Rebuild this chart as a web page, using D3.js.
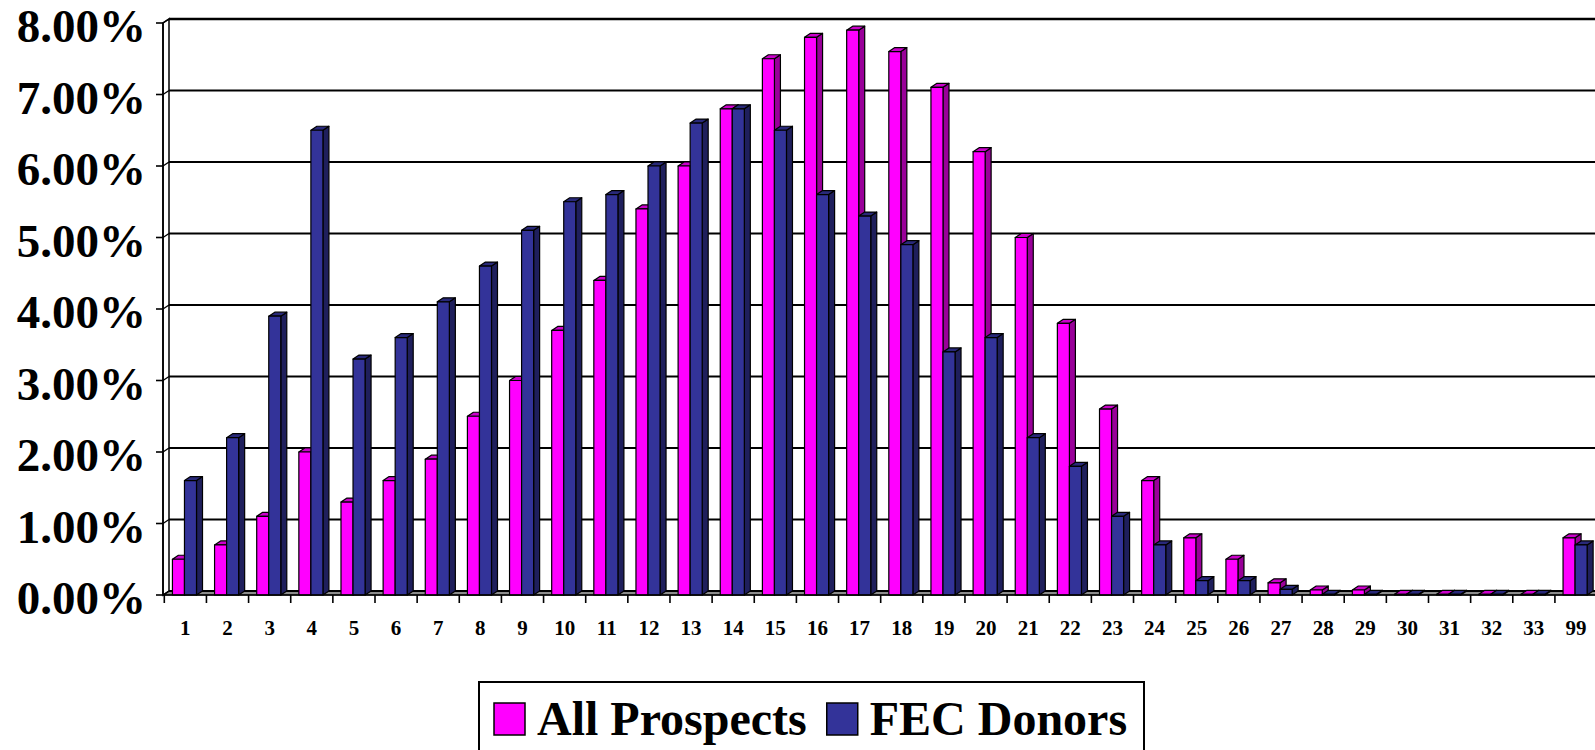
<!DOCTYPE html>
<html>
<head>
<meta charset="utf-8">
<script src="https://cdn.jsdelivr.net/npm/d3@7"></script>
<style>
  html, body { margin: 0; padding: 0; background: #fff; }
  svg { display: block; }
  text { font-family: "Liberation Serif", "Times New Roman", serif; font-weight: bold; fill: #000; }
</style>
</head>
<body>
<svg id="chart" width="1595" height="750"></svg>
<script>
// Distribution by category, percent of each group
const categories = ["1","2","3","4","5","6","7","8","9","10","11","12","13","14","15","16","17",
  "18","19","20","21","22","23","24","25","26","27","28","29","30","31","32","33","99"];
const seriesNames = ["All Prospects", "FEC Donors"];
const allProspects = [0.5, 0.7, 1.1, 2.0, 1.3, 1.6, 1.9, 2.5, 3.0, 3.7, 4.4, 5.4, 6.0, 6.8, 7.5, 7.8, 7.9,
  7.6, 7.1, 6.2, 5.0, 3.8, 2.6, 1.6, 0.8, 0.5, 0.17, 0.07, 0.07, 0.01, 0.01, 0.01, 0.01, 0.8];
const fecDonors = [1.6, 2.2, 3.9, 6.5, 3.3, 3.6, 4.1, 4.6, 5.1, 5.5, 5.6, 6.0, 6.6, 6.8, 6.5, 5.6, 5.3,
  4.9, 3.4, 3.6, 2.2, 1.8, 1.1, 0.7, 0.2, 0.2, 0.08, 0.01, 0.01, 0.01, 0.01, 0.01, 0.01, 0.7];
const yTicks = [0, 1, 2, 3, 4, 5, 6, 7, 8];

const colors = {
  "All Prospects": { front: "#FF00FF", top: "#CC00CC", side: "#990099" },
  "FEC Donors":    { front: "#333399", top: "#29297A", side: "#1F1F5C" }
};

const svg = d3.select("#chart");

// 3D depth offset of the back wall relative to the front plane
const dx = 6, dy = 4;

// Back wall vertical scale
const yBack = d3.scaleLinear().domain([0, 8]).range([591, 19]);
const yFront = v => yBack(v) + dy;

// Category bands along the front edge
const step = 42.14;
const x0 = d3.scaleBand().domain(categories)
  .range([164.3, 164.3 + step * categories.length]).paddingInner(0).paddingOuter(0);
const x1 = d3.scaleBand().domain(seriesNames)
  .range([0, x0.bandwidth()]).paddingInner(0).paddingOuter(0.75).align(0.45);

const xLeftFront = 163, xRight = 1600;

// Floor strip
svg.append("polygon")
  .attr("points", [[xLeftFront, yFront(0)], [xLeftFront + dx, yBack(0)], [xRight, yBack(0)], [xRight, yFront(0)]].join(" "))
  .attr("fill", "#8c8c8c").attr("stroke", "#000").attr("stroke-width", 1);

// Left side wall
svg.append("polygon")
  .attr("points", [[xLeftFront, yFront(0)], [xLeftFront, yFront(8)], [xLeftFront + dx, yBack(8)], [xLeftFront + dx, yBack(0)]].join(" "))
  .attr("fill", "#fff").attr("stroke", "#000").attr("stroke-width", 1.5);

// Gridlines on the back wall and side wall
const grid = svg.append("g");
yTicks.forEach(t => {
  grid.append("line")
    .attr("x1", xLeftFront + dx).attr("x2", xRight)
    .attr("y1", yBack(t)).attr("y2", yBack(t))
    .attr("stroke", "#000").attr("stroke-width", t === 8 ? 2.4 : 1.8);
  grid.append("line")
    .attr("x1", xLeftFront).attr("x2", xLeftFront + dx)
    .attr("y1", yFront(t)).attr("y2", yBack(t))
    .attr("stroke", "#000").attr("stroke-width", 1.4);
});

// Bars drawn as front, top and side faces
const bars = svg.append("g");
categories.forEach((c, i) => {
  const vals = { "All Prospects": allProspects[i], "FEC Donors": fecDonors[i] };
  seriesNames.forEach(s => {
    const v = vals[s];
    const xf = x0(c) + x1(s);
    const w = x1.bandwidth();
    const yt = yFront(v), yb = yFront(0);
    const col = colors[s];
    const g = bars.append("g").attr("stroke", "#000").attr("stroke-width", 1.2).attr("stroke-linejoin", "round");
    g.append("polygon")
      .attr("points", [[xf + w, yt], [xf + w + dx, yt - dy], [xf + w + dx, yb - dy], [xf + w, yb]].join(" "))
      .attr("fill", col.side);
    g.append("polygon")
      .attr("points", [[xf, yt], [xf + dx, yt - dy], [xf + w + dx, yt - dy], [xf + w, yt]].join(" "))
      .attr("fill", col.top);
    g.append("rect")
      .attr("x", xf).attr("y", yt).attr("width", w).attr("height", Math.max(0, yb - yt))
      .attr("fill", col.front);
  });
});

// Front axis lines
svg.append("line").attr("x1", xLeftFront).attr("x2", xLeftFront)
  .attr("y1", yFront(8)).attr("y2", yFront(0)).attr("stroke", "#000").attr("stroke-width", 1.6);
svg.append("line").attr("x1", xLeftFront).attr("x2", xRight)
  .attr("y1", yFront(0)).attr("y2", yFront(0)).attr("stroke", "#000").attr("stroke-width", 1.6);

// Y axis ticks and labels
const yAxis = svg.append("g");
yTicks.forEach(t => {
  yAxis.append("line").attr("x1", 156).attr("x2", xLeftFront)
    .attr("y1", yFront(t)).attr("y2", yFront(t)).attr("stroke", "#000").attr("stroke-width", 1.6);
  yAxis.append("text")
    .attr("x", 146).attr("y", yFront(t) + 19)
    .attr("text-anchor", "end").attr("font-size", 47)
    .text(t.toFixed(2) + "%");
});

// X axis ticks and labels
const xAxis = svg.append("g");
categories.forEach(c => {
  xAxis.append("line").attr("x1", x0(c)).attr("x2", x0(c))
    .attr("y1", yFront(0)).attr("y2", yFront(0) + 8).attr("stroke", "#000").attr("stroke-width", 1.6);
  xAxis.append("text")
    .attr("x", x0(c) + x0.bandwidth() / 2).attr("y", 635)
    .attr("text-anchor", "middle").attr("font-size", 21)
    .text(c);
});

// Legend
const legend = svg.append("g");
legend.append("rect").attr("x", 479).attr("y", 682).attr("width", 665).attr("height", 100)
  .attr("fill", "#fff").attr("stroke", "#000").attr("stroke-width", 2);
let lx = 494;
seriesNames.forEach(s => {
  legend.append("rect").attr("x", lx).attr("y", 703).attr("width", 31).attr("height", 32)
    .attr("fill", colors[s].front).attr("stroke", "#000").attr("stroke-width", 1.5);
  const t = legend.append("text").attr("x", lx + 43).attr("y", 735).attr("font-size", 48).text(s);
  lx = lx + 43 + t.node().getComputedTextLength() + 20;
});
</script>
</body>
</html>
